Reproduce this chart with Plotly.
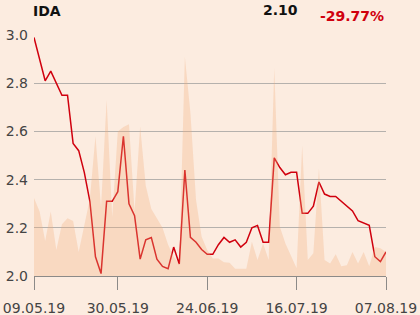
import plotly.graph_objects as go

dates = [
    "09.05.19", "10.05.19", "13.05.19", "14.05.19", "15.05.19", "16.05.19", "17.05.19",
    "20.05.19", "21.05.19", "22.05.19", "23.05.19", "24.05.19", "27.05.19", "28.05.19",
    "29.05.19", "30.05.19", "31.05.19", "03.06.19", "04.06.19", "05.06.19", "06.06.19",
    "07.06.19", "10.06.19", "11.06.19", "12.06.19", "13.06.19", "14.06.19", "17.06.19",
    "18.06.19", "19.06.19", "21.06.19", "24.06.19", "25.06.19", "26.06.19", "27.06.19",
    "28.06.19", "01.07.19", "02.07.19", "03.07.19", "04.07.19", "05.07.19", "08.07.19",
    "09.07.19", "10.07.19", "11.07.19", "12.07.19", "15.07.19", "16.07.19", "17.07.19",
    "18.07.19", "19.07.19", "22.07.19", "23.07.19", "24.07.19", "25.07.19", "26.07.19",
    "29.07.19", "30.07.19", "31.07.19", "01.08.19", "02.08.19", "05.08.19", "06.08.19",
    "07.08.19",
]

price = [
    2.99, 2.90, 2.81, 2.85, 2.80, 2.75, 2.75, 2.55, 2.52, 2.43, 2.31, 2.08, 2.01, 2.31,
    2.31, 2.35, 2.58, 2.30, 2.25, 2.07, 2.15, 2.16, 2.07, 2.04, 2.03, 2.12, 2.05, 2.44,
    2.16, 2.14, 2.11, 2.09, 2.09, 2.13, 2.16, 2.14, 2.15, 2.12, 2.14, 2.20, 2.21, 2.14,
    2.14, 2.49, 2.45, 2.42, 2.43, 2.43, 2.26, 2.26, 2.29, 2.39, 2.34, 2.33, 2.33, 2.31,
    2.29, 2.27, 2.23, 2.22, 2.21, 2.08, 2.06, 2.10,
]

volume = [
    324, 268, 145, 268, 108, 215, 240, 228, 100, 207, 320, 580, 285, 730,
    245, 600, 618, 630, 270, 620, 375, 278, 240, 200, 130, 80, 50, 910,
    675, 315, 163, 108, 73, 73, 57, 55, 30, 30, 30, 142, 66, 135,
    66, 864, 204, 135, 80, 32, 542, 66, 94, 446, 66, 52, 90, 40,
    45, 100, 52, 100, 40, 120, 115, 100,
]

tick_dates = ["09.05.19", "30.05.19", "24.06.19", "16.07.19", "07.08.19"]
y_ticks = [2.0, 2.2, 2.4, 2.6, 2.8, 3.0]

ticker = "IDA"
last_price = "2.10"
change = "-29.77%"

bg = "#fcece0"

fig = go.Figure()
fig.add_trace(go.Scatter(
    x=dates, y=volume, yaxis="y2", mode="lines", line=dict(width=0),
    fill="tozeroy", fillcolor="rgba(242,172,122,0.30)", hoverinfo="skip",
))
fig.add_trace(go.Scatter(
    x=dates, y=price, mode="lines", line=dict(color="#d0000e", width=1.5),
))

fig.update_layout(
    width=420, height=315,
    margin=dict(l=34, r=34, t=35, b=39),
    paper_bgcolor=bg, plot_bgcolor=bg,
    showlegend=False,
    font=dict(family="DejaVu Sans", size=14, color="#333333"),
    xaxis=dict(
        type="category", categoryorder="array", categoryarray=dates,
        range=[0, len(dates) - 1], automargin=False,
        tickmode="array", tickvals=tick_dates, ticktext=tick_dates,
        showgrid=False, zeroline=False,
        showline=True, linecolor="#8c8a88", linewidth=1,
        ticks="outside", ticklen=13, tickcolor="#8c8a88", tickwidth=1,
        ticklabelstandoff=6,
        tickfont=dict(size=14, color="#444444"),
    ),
    yaxis=dict(
        range=[2.0, 3.0], tickmode="array", tickvals=y_ticks, automargin=False,
        tickformat=".1f", showgrid=True, gridcolor="#b5b1ad", gridwidth=1,
        zeroline=False, showline=False, ticks="",
        ticklabelstandoff=5,
        tickfont=dict(size=14, color="#444444"),
    ),
    yaxis2=dict(overlaying="y", range=[0, 1000], visible=False, automargin=False),
    annotations=[
        dict(text="<b>" + ticker + "</b>", xref="paper", yref="paper",
             x=-0.008, y=1.10, xanchor="left", yanchor="middle", showarrow=False,
             font=dict(size=14, color="#111111")),
        dict(text="<b>" + last_price + "</b>", xref="paper", yref="paper",
             x=0.644, y=1.103, xanchor="left", yanchor="middle", showarrow=False,
             font=dict(size=14, color="#111111")),
        dict(text="<b>" + change + "</b>", xref="paper", yref="paper",
             x=0.806, y=1.078, xanchor="left", yanchor="middle", showarrow=False,
             font=dict(size=14, color="#d0000e")),
    ],
)

fig.write_html("out.html")
